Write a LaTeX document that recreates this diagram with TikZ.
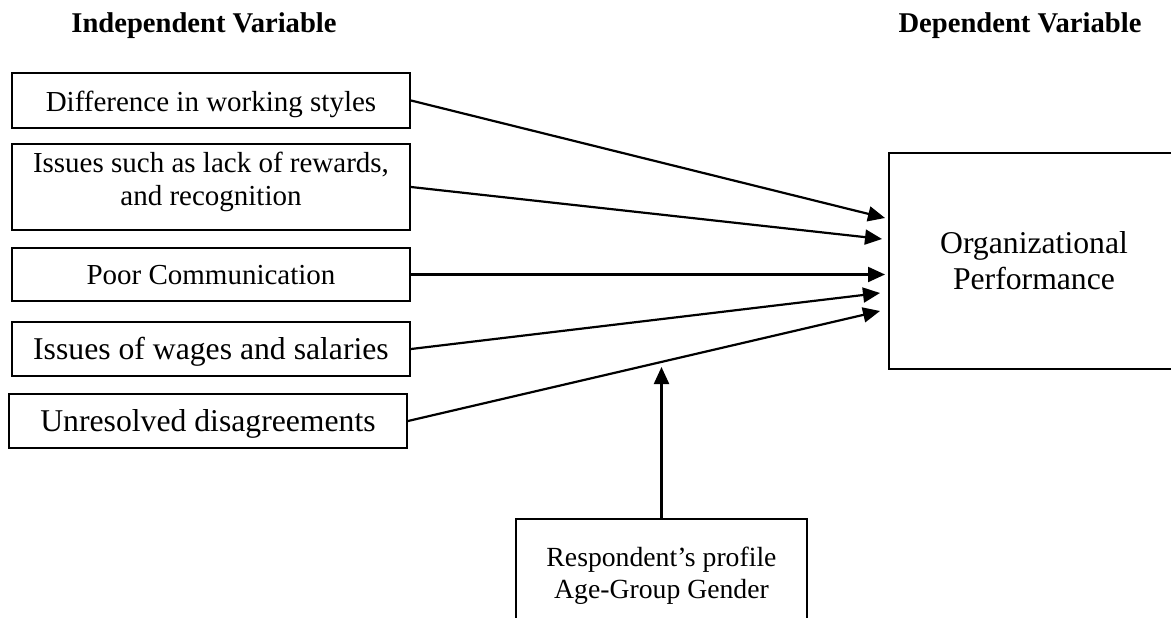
\documentclass[tikz,border=0pt]{standalone}
\usepackage{fontspec}
\setmainfont{Liberation Serif}
\usetikzlibrary{arrows.meta}
\begin{document}
\begin{tikzpicture}[x=1pt,y=-1pt,
  ivbox/.style={draw,line width=2pt,inner sep=0pt,align=center},
  conn/.style={line width=2.2pt,-{Triangle[length=17pt,width=15pt]}},
  head/.style={font=\fontsize{28.6}{33}\selectfont\bfseries,inner sep=0pt},
  fA/.style={font=\fontsize{29}{33}\selectfont},
  fB/.style={font=\fontsize{31.7}{36}\selectfont},
]
\clip (0,0) rectangle (1171,618);
\node[head,anchor=base] (ivh) at (204,33) {Independent Variable};
\node[head,anchor=base] (dvh) at (1020,33) {Dependent Variable};

\node[ivbox,fA,minimum width=398pt,minimum height=55pt,text height=23pt,text depth=0pt] (b1) at (211,100.5) {Difference in working styles};
\node[ivbox,minimum width=398pt,minimum height=86pt] (b2) at (211,187) {};
\node[align=center,inner sep=0pt,fA] (b2txt) at (211,182) {Issues such as lack of rewards,\\and recognition};
\node[ivbox,fA,minimum width=398pt,minimum height=53pt,text height=19pt,text depth=0pt] (b3) at (211,274.5) {Poor Communication};
\node[ivbox,fB,minimum width=398pt,minimum height=54pt,text height=20pt,text depth=0pt] (b4) at (211,349) {Issues of wages and salaries};
\node[ivbox,fB,minimum width=398pt,minimum height=54pt,text height=21.4pt,text depth=0pt] (b5) at (208,421) {Unresolved disagreements};

\node[ivbox,fB,minimum width=290pt,minimum height=216pt] (perf) at (1034,261) {Organizational\\Performance};

\node[ivbox,minimum width=291pt,minimum height=161pt] (profbox) at (661.5,599.5) {};
\node[align=center,inner sep=0pt,font=\fontsize{27.7}{32}\selectfont] (proftxt) at (661.5,576) {Respondent’s profile\\Age-Group Gender};

\coordinate (t1) at (885,218);
\coordinate (t2) at (882,239);
\coordinate (t3) at (885,274.5);
\coordinate (t4) at (880,293);
\coordinate (t5) at (880,311);
\coordinate (tv) at (661.5,367);

\draw[conn] (b1.east) -- (t1);
\draw[conn] (b2.east) -- (t2);
\draw[conn] (b3.east) -- (t3);
\draw[conn] (b4.east) -- (t4);
\draw[conn] (b5.east) -- (t5);
\draw[conn] (profbox.north) -- (tv);
\end{tikzpicture}
\end{document}
